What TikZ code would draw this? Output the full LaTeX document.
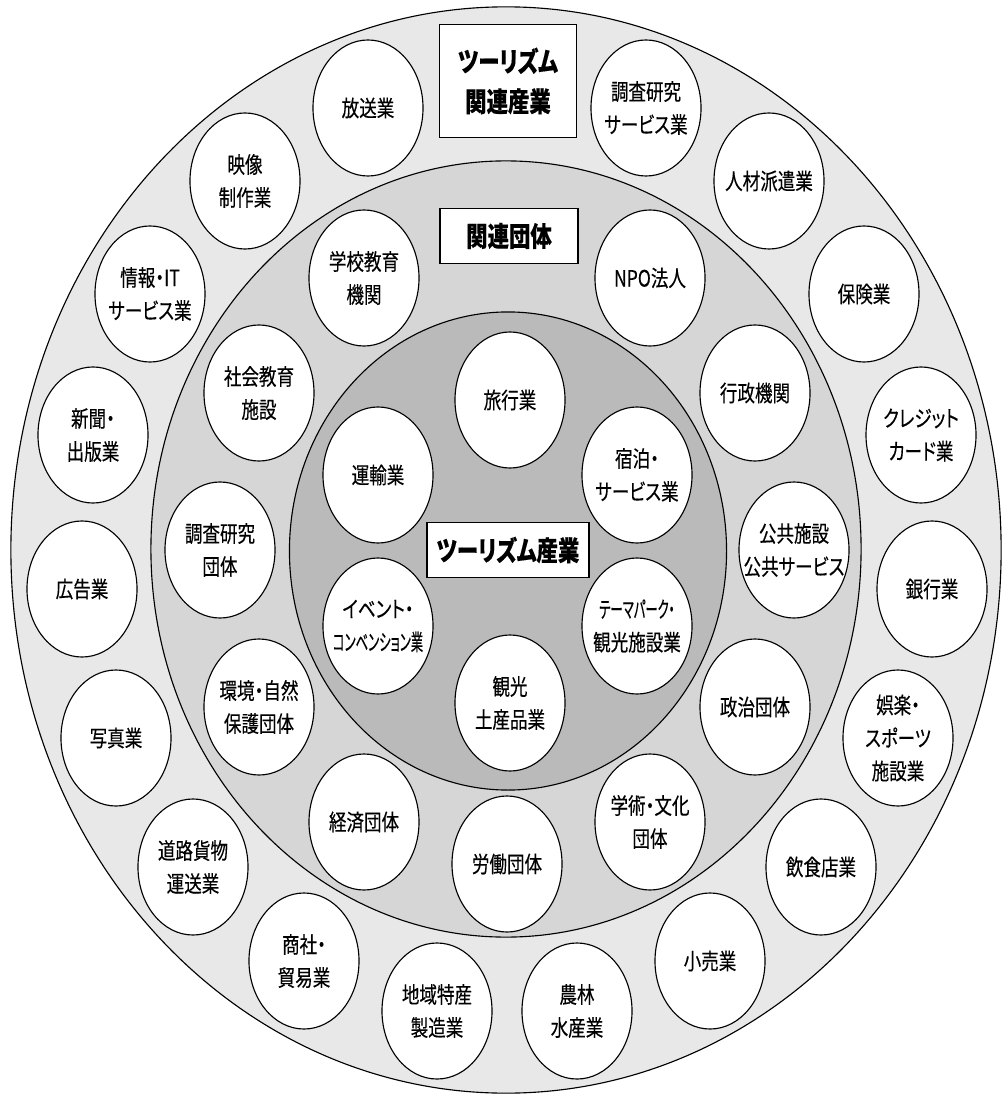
\documentclass[tikz,border=0pt]{standalone}
\usepackage{fontspec}
\usetikzlibrary{shapes.geometric}
\newfontfamily\jpfont[FakeStretch=0.78,FakeBold=0.3,RawFeature=+palt]{Noto Sans CJK JP}
\newfontfamily\jpnarrow[FakeStretch=0.55,FakeBold=0.3,RawFeature=+palt]{Noto Sans CJK JP}
\definecolor{ringout}{gray}{0.91}
\definecolor{ringmid}{gray}{0.84}
\definecolor{ringin}{gray}{0.73}

\begin{document}
\begin{tikzpicture}[x=0.025cm,y=-0.025cm]
  \tikzstyle{enode} = [line width=0.8pt, draw=black, fill=white, ellipse, inner xsep=-0.6cm, inner ysep=-0.35cm, minimum width=2.75cm, minimum height=3.4cm, align=center, font=\jpfont\fontsize{16}{23.5}\selectfont]
  \tikzstyle{tbox} = [line width=0.8pt, draw=black, fill=white, inner sep=0pt, align=center, font=\jpfont\bfseries\fontsize{19.5}{28.5}\selectfont]
  \fill[white] (0,0) rectangle (1002,1095);
  \useasboundingbox (0,0) rectangle (1002,1095);
  % rings
  \draw[line width=0.8pt, fill=ringout] (506,550) ellipse [x radius=12.375cm, y radius=13.575cm];
  \draw[line width=0.8pt, fill=ringmid] (506,549) ellipse [x radius=8.875cm, y radius=9.7cm];
  \draw[line width=0.8pt, fill=ringin] (508,551) ellipse [x radius=5.4625cm, y radius=5.975cm];
  % outer ring
  \node[tbox, minimum width=3.425cm, minimum height=2.825cm] (b1) at (508,81) {ツーリズム\\関連産業};
  \node[enode] (o1) at (368,108) {放送業};
  \node[enode] (o2) at (245,181) {映像\\制作業};
  \node[enode] (o3) at (150,294) {情報・IT\\サービス業};
  \node[enode] (o4) at (93,435) {新聞・\\出版業};
  \node[enode] (o5) at (82,589) {広告業};
  \node[enode] (o6) at (116,738) {写真業};
  \node[enode] (o7) at (193,867) {道路貨物\\運送業};
  \node[enode] (o8) at (304,961) {商社・\\貿易業};
  \node[enode] (o9) at (437,1011) {地域特産\\製造業};
  \node[enode] (o10) at (577,1011) {農林\\水産業};
  \node[enode] (o11) at (710,961) {小売業};
  \node[enode] (o12) at (821,867) {飲食店業};
  \node[enode] (o13) at (898,738) {娯楽・\\スポーツ\\施設業};
  \node[enode] (o14) at (932,589) {銀行業};
  \node[enode] (o15) at (921,435) {クレジット\\カード業};
  \node[enode] (o16) at (864,294) {保険業};
  \node[enode] (o17) at (769,181) {人材派遣業};
  \node[enode] (o18) at (646,108) {調査研究\\サービス業};
  % middle ring
  \node[tbox, minimum width=3.45cm, minimum height=1.375cm] (b2) at (509,236) {関連団体};
  \node[enode] (m1) at (364,278) {学校教育\\機関};
  \node[enode] (m2) at (259,393) {社会教育\\施設};
  \node[enode] (m3) at (220,550) {調査研究\\団体};
  \node[enode] (m4) at (259,707) {環境・自然\\保護団体};
  \node[enode] (m5) at (364,822) {経済団体};
  \node[enode] (m6) at (507,864) {労働団体};
  \node[enode] (m7) at (650,822) {学術・文化\\団体};
  \node[enode] (m8) at (755,707) {政治団体};
  \node[enode] (m9) at (794,550) {公共施設\\公共サービス};
  \node[enode] (m10) at (755,393) {行政機関};
  \node[enode] (m11) at (650,278) {NPO法人};
  % inner ring
  \node[tbox, minimum width=4.05cm, minimum height=1.375cm] (b3) at (508,550) {ツーリズム産業};
  \node[enode] (t1) at (510,400) {旅行業};
  \node[enode] (t2) at (637,475) {宿泊・\\サービス業};
  \node[enode] (t3) at (637,626) {{\jpnarrow テーマパーク・}\\観光施設業};
  \node[enode] (t4) at (510,703) {観光\\土産品業};
  \node[enode] (t5) at (378,626) {イベント・\\{\jpnarrow コンベンション業}};
  \node[enode] (t6) at (378,475) {運輸業};
\end{tikzpicture}
\end{document}
